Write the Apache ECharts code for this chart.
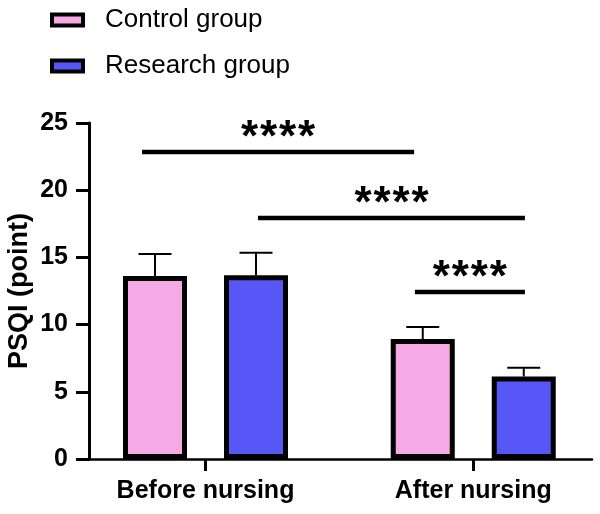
<!DOCTYPE html>
<html>
<head>
<meta charset="utf-8">
<script src="https://cdn.jsdelivr.net/npm/echarts@6/dist/echarts.min.js"></script>
<style>html,body{margin:0;padding:0;background:#fff}#c{width:600px;height:514px}</style>
</head>
<body>
<div id="c"></div>
<script>
// ---- data ----
const categories = ['Before nursing', 'After nursing'];
const categoryPos = [0, 1];
const seriesNames = ['Control group', 'Research group'];
const controlMean = [13.62, 8.93];
const controlSD = [1.63, 0.89];
const researchMean = [13.67, 6.14];
const researchSD = [1.68, 0.65];
const yTicks = [0, 5, 10, 15, 20, 25];
// significance brackets: start x, end x, height, label
const sigX1 = [-0.237, 0.196, 0.782];
const sigX2 = [0.779, 1.193, 1.193];
const sigY = [22.84, 17.93, 12.43];
const sigLabel = ['****', '****', '****'];

// ---- styles ----
const FONT = 'Arial, "Liberation Sans", sans-serif';
const colors = ['#F5AAE6', '#5757F7'];
const BAR_W = 64;
const BAR_SPACING = 101; // px between the two bars' centres in a group
const BAR_GAP = (BAR_SPACING - BAR_W) / BAR_W;
const halfOffset = BAR_SPACING / 2;
const STAR_STEP = 19;

const chart = echarts.init(document.getElementById('c'));

function barData(mean) { return mean.map((v, i) => [categoryPos[i], v]); }
function errData(mean, sd) { return mean.map((v, i) => [categoryPos[i], v, v + sd[i]]); }

function errRender(offset) {
  return function (params, api) {
    const x = api.value(0);
    const p0 = api.coord([x, api.value(1)]);
    const p1 = api.coord([x, api.value(2)]);
    const cx = p0[0] + offset;
    const cap = 16.5;
    return {
      type: 'group',
      children: [
        { type: 'line', shape: { x1: cx, y1: p0[1], x2: cx, y2: p1[1] }, style: { stroke: '#000', lineWidth: 2 } },
        { type: 'line', shape: { x1: cx - cap, y1: p1[1], x2: cx + cap, y2: p1[1] }, style: { stroke: '#000', lineWidth: 2 } }
      ]
    };
  };
}

const sigData = sigY.map((y, i) => [sigX1[i], sigX2[i], y, sigLabel[i]]);

const option = {
  animation: false,
  backgroundColor: '#fff',
  legend: {
    orient: 'vertical',
    left: 50,
    top: 6,
    padding: 0,
    itemWidth: 31,
    itemHeight: 11,
    itemGap: 18,
    icon: 'rect',
    itemStyle: { borderColor: '#000', borderWidth: 4 },
    textStyle: { fontFamily: FONT, fontSize: 26, color: '#000', lineHeight: 28, padding: [0, 0, 0, 17] },
    data: seriesNames
  },
  grid: { left: 89, right: 8, top: 123, bottom: 55, containLabel: false, outerBoundsMode: 'none' },
  xAxis: {
    type: 'value',
    min: -0.4351,
    max: 1.4435,
    splitLine: { show: false },
    axisLine: { show: true, onZero: false, lineStyle: { color: '#000', width: 2.5 } },
    axisTick: { show: true, customValues: categoryPos, length: 12, lineStyle: { color: '#000', width: 3 } },
    axisLabel: {
      customValues: categoryPos,
      formatter: v => categories[Math.round(v)],
      fontFamily: FONT, fontSize: 25, fontWeight: 'bold', color: '#000', margin: 20
    }
  },
  yAxis: {
    type: 'value',
    min: 0, max: 25, interval: 5,
    name: 'PSQI (point)',
    nameLocation: 'middle',
    nameGap: 56,
    nameMoveOverlap: false,
    nameTextStyle: { fontFamily: FONT, fontSize: 27, fontWeight: 'bold', color: '#000' },
    splitLine: { show: false },
    axisLine: { show: true, onZero: false, lineStyle: { color: '#000', width: 3 } },
    axisTick: { show: true, length: 13, lineStyle: { color: '#000', width: 3 } },
    axisLabel: { fontFamily: FONT, fontSize: 25, fontWeight: 'bold', color: '#000', margin: 21 }
  },
  series: [
    {
      name: seriesNames[0], type: 'bar', barWidth: BAR_W, barGap: (BAR_GAP * 100) + '%',
      itemStyle: { color: colors[0], borderColor: '#000', borderWidth: 5 },
      data: barData(controlMean), z: 2
    },
    {
      name: seriesNames[1], type: 'bar', barWidth: BAR_W, barGap: (BAR_GAP * 100) + '%',
      itemStyle: { color: colors[1], borderColor: '#000', borderWidth: 5 },
      data: barData(researchMean), z: 2
    },
    {
      type: 'custom', renderItem: errRender(-halfOffset), data: errData(controlMean, controlSD),
      encode: { x: 0, y: [1, 2] }, z: 3, silent: true
    },
    {
      type: 'custom', renderItem: errRender(halfOffset), data: errData(researchMean, researchSD),
      encode: { x: 0, y: [1, 2] }, z: 3, silent: true
    },
    {
      type: 'custom',
      data: sigData,
      encode: { x: [0, 1], y: 2 },
      z: 4, silent: true,
      renderItem: function (params, api) {
        const a = api.coord([api.value(0), api.value(2)]);
        const b = api.coord([api.value(1), api.value(2)]);
        const label = sigData[params.dataIndex][3];
        const n = label.length;
        const mid = (a[0] + b[0]) / 2;
        const children = [
          { type: 'line', shape: { x1: a[0], y1: a[1], x2: b[0], y2: b[1] }, style: { stroke: '#000', lineWidth: 4.5 } }
        ];
        for (let k = 0; k < n; k++) {
          children.push({ type: 'text', x: mid + (k - (n - 1) / 2) * STAR_STEP, y: a[1] - 13,
            style: { text: label[k], fontFamily: FONT, fontWeight: 'bold', fontSize: 44,
                     fill: '#000', align: 'center', verticalAlign: 'middle' } });
        }
        return { type: 'group', children };
      }
    }
  ]
};
chart.setOption(option);
</script>
</body>
</html>
